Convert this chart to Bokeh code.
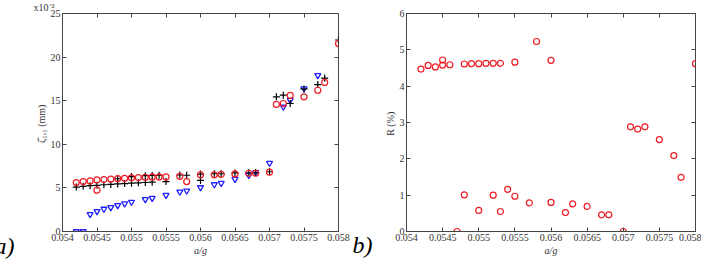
from bokeh.plotting import figure
from bokeh.layouts import row
from bokeh.models import (LinearAxis, FixedTicker, CustomJSTickFormatter, Label, Range1d)
from bokeh.embed import file_html
from bokeh.resources import INLINE

# ---- data: panel a) amplitude (x10^-2 mm) ----
red_x = [0.0542, 0.0543, 0.0544, 0.0545, 0.0545, 0.0546, 0.0547, 0.0548, 0.0549, 0.0550,
         0.0551, 0.0552, 0.0553, 0.0554, 0.0555, 0.0557, 0.0558, 0.0560, 0.0562, 0.0563,
         0.0565, 0.0567, 0.0568, 0.0570, 0.0571, 0.0572, 0.0573, 0.0575, 0.0577, 0.0578, 0.0580]
red_y = [5.61, 5.73, 5.80, 5.92, 4.74, 5.96, 6.00, 6.07, 6.10, 6.15,
         6.18, 6.22, 6.26, 6.26, 6.26, 6.33, 5.73, 6.50, 6.50, 6.56,
         6.60, 6.68, 6.68, 6.80, 14.57, 14.68, 15.60, 15.44, 16.20, 17.10, 21.55]

black_x = [0.0542, 0.0543, 0.0544, 0.0545, 0.0546, 0.0547, 0.0548, 0.0549, 0.0550, 0.0551,
           0.0552, 0.0553, 0.0555, 0.0560,
           0.0548, 0.0550, 0.0552, 0.0553, 0.0554, 0.0557, 0.0558, 0.0560, 0.0562, 0.0563,
           0.0565, 0.0567, 0.0568, 0.0570, 0.0571, 0.0572, 0.0573, 0.0575, 0.0577, 0.0578, 0.0580]
black_y = [5.10, 5.18, 5.25, 5.30, 5.36, 5.40, 5.46, 5.50, 5.54, 5.58,
           5.62, 5.66, 5.72, 5.86,
           6.05, 6.30, 6.40, 6.42, 6.45, 6.48, 6.45, 6.58, 6.62, 6.62,
           6.72, 6.74, 6.76, 6.85, 15.44, 15.63, 14.68, 16.35, 16.85, 17.60, 21.96]

blue_x = [0.0542, 0.0543, 0.0544, 0.0545, 0.0546, 0.0547, 0.0548, 0.0549, 0.0550, 0.0552,
          0.0553, 0.0555, 0.0557, 0.0558, 0.0560, 0.0562, 0.0563, 0.0565, 0.0567, 0.0568,
          0.0570, 0.0572, 0.0573, 0.0575, 0.0577]
blue_y = [0.0, 0.0, 1.97, 2.31, 2.58, 2.77, 3.00, 3.19, 3.38, 3.68,
          3.83, 4.17, 4.55, 4.67, 5.05, 5.39, 5.54, 6.00, 6.45, 6.79,
          7.85, 14.30, 15.06, 16.39, 17.90]

# ---- data: panel b) R (%) ----
r_x = [0.0542, 0.0543, 0.0544, 0.0545, 0.0545, 0.0546, 0.0547, 0.0548, 0.0548, 0.0549,
       0.0550, 0.0550, 0.0551, 0.0552, 0.0552, 0.0553, 0.0553, 0.0554, 0.0555, 0.0555,
       0.0557, 0.0558, 0.0560, 0.0560, 0.0562, 0.0563, 0.0565, 0.0567, 0.0568, 0.0570,
       0.0571, 0.0572, 0.0573, 0.0575, 0.0577, 0.0578, 0.0580]
r_y = [4.47, 4.57, 4.53, 4.72, 4.58, 4.59, 0.00, 4.61, 1.01, 4.62,
       4.62, 0.58, 4.63, 4.63, 1.00, 4.63, 0.55, 1.16, 4.66, 0.97,
       0.79, 5.23, 4.71, 0.80, 0.52, 0.76, 0.69, 0.46, 0.46, 0.00,
       2.88, 2.82, 2.88, 2.53, 2.09, 1.49, 4.62]

x_ticks = [0.054, 0.0545, 0.055, 0.0555, 0.056, 0.0565, 0.057, 0.0575, 0.058]
ya_ticks = [0, 5, 10, 15, 20, 25]
yb_ticks = [0, 1, 2, 3, 4, 5, 6]

SERIF = "Liberation Serif"
AX = "#444444"
TXT = "#333333"

fmt = CustomJSTickFormatter(code="return (Math.round(tick*10000)/10000).toString();")


def style(p, yt, xlabel, ylabel):
    p.outline_line_color = AX
    p.outline_line_width = 1
    p.xgrid.visible = False
    p.ygrid.visible = False
    xa = p.below[0]
    ya = p.left[0]
    xa.ticker = FixedTicker(ticks=x_ticks)
    xa.formatter = fmt
    ya.ticker = FixedTicker(ticks=yt)
    xa.axis_label = xlabel
    ya.axis_label = ylabel
    for ax in (xa, ya):
        ax.axis_line_color = AX
        ax.major_tick_line_color = AX
        ax.major_tick_in = 4
        ax.major_tick_out = 0
        ax.minor_tick_line_color = None
        ax.major_label_text_font = SERIF
        ax.major_label_text_font_size = "10px"
        ax.major_label_text_color = TXT
        ax.major_label_standoff = 2
        ax.axis_label_text_font = SERIF
        ax.axis_label_text_font_size = "10px"
        ax.axis_label_text_color = TXT
        ax.axis_label_standoff = 1
    xa.axis_label_text_font_style = "italic"
    ya.axis_label_text_font_style = "normal"
    # box ticks on top and right
    top = LinearAxis(ticker=FixedTicker(ticks=x_ticks), major_label_text_font_size="0px",
                     major_tick_in=4, major_tick_out=0, major_tick_line_color=AX,
                     minor_tick_line_color=None, axis_line_color=None, major_label_standoff=0)
    right = LinearAxis(ticker=FixedTicker(ticks=yt), major_label_text_font_size="0px",
                       major_tick_in=4, major_tick_out=0, major_tick_line_color=AX,
                       minor_tick_line_color=None, axis_line_color=None, major_label_standoff=0)
    p.add_layout(top, "above")
    p.add_layout(right, "right")


# ---- panel a ----
pa = figure(width=350, height=261, output_backend="svg", toolbar_location=None,
            x_range=Range1d(0.054, 0.058), y_range=Range1d(0, 25),
            min_border_left=62, min_border_right=12, min_border_top=13, min_border_bottom=29)
style(pa, ya_ticks, "a/g", "ζ̂₁,₁  (mm)")
pa.scatter(blue_x, blue_y, marker="inverted_triangle", size=6, line_color="#1f1fff",
           fill_color=None, line_width=1.3)
pa.scatter(black_x, black_y, marker="cross", size=7, line_color="black", line_width=1.2)
pa.scatter(red_x, red_y, marker="circle", size=6, line_color="#ee1c24", fill_color=None,
           line_width=1.2)
pa.add_layout(Label(x=0.054, y=25, x_offset=-29, y_offset=1, text="x10⁻²",
                    text_font=SERIF, text_font_size="10px", text_color=TXT), "above")
pa.add_layout(Label(x=0.054, y=0, x_offset=-68, y_offset=-27, text="a)",
                    text_font=SERIF, text_font_style="italic", text_font_size="24px",
                    text_color="black"), "left")

# ---- panel b ----
pb = figure(width=351, height=261, output_backend="svg", toolbar_location=None,
            x_range=Range1d(0.054, 0.058), y_range=Range1d(0, 6),
            min_border_left=56, min_border_right=6, min_border_top=3, min_border_bottom=30)
style(pb, yb_ticks, "a/g", "R  (%)")
pb.scatter(r_x, r_y, marker="circle", size=6, line_color="#ee1c24", fill_color=None,
           line_width=1.2)
pb.add_layout(Label(x=0.054, y=0, x_offset=-54, y_offset=-26, text="b)",
                    text_font=SERIF, text_font_style="italic", text_font_size="24px",
                    text_color="black"), "left")

layout = row(pa, pb, spacing=0)
open("out.html", "w").write(file_html(layout, INLINE))
